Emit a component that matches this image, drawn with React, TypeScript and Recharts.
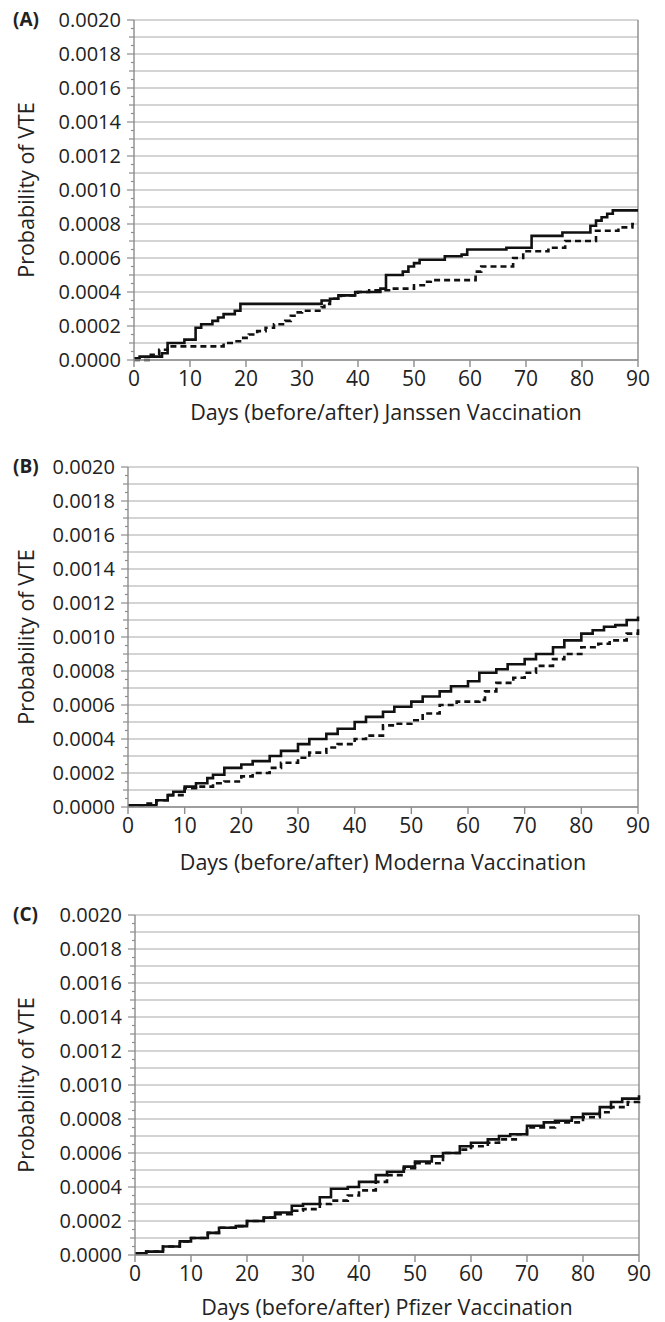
import React from "react";
import {
  LineChart,
  Line,
  XAxis,
  YAxis,
  CartesianGrid,
  ReferenceLine,
} from "recharts";

// x ticks and labelled y ticks
const xTicks = [0, 10, 20, 30, 40, 50, 60, 70, 80, 90];
const yLabels = [0, 0.0002, 0.0004, 0.0006, 0.0008, 0.001, 0.0012, 0.0014, 0.0016, 0.0018, 0.002];
const yTitle = "Probability of VTE";

// (A) Janssen
const janssenSolidDays = [0, 1, 5, 6, 9, 11, 12, 14, 15, 16, 18, 19, 33.5, 35, 36.5, 39.5, 44, 45, 48, 49, 50, 51, 55.5, 58.5, 59.5, 66.5, 71, 76.5, 81.5, 82.5, 83.5, 84.5, 85.5, 90];
const janssenSolidP = [0.00001, 0.00002, 0.00004, 0.0001, 0.00012, 0.00019, 0.00021, 0.00023, 0.00025, 0.00027, 0.00029, 0.00033, 0.00035, 0.00036, 0.00038, 0.0004, 0.00042, 0.0005, 0.00052, 0.00055, 0.00057, 0.00059, 0.00061, 0.00062, 0.00065, 0.00066, 0.00073, 0.00075, 0.00079, 0.00082, 0.00084, 0.00086, 0.00088, 0.00088];
const janssenDashDays = [0, 3, 4.5, 6, 16, 18, 19.5, 20.5, 22, 23.5, 25, 27, 28, 29, 30, 33.5, 34, 35, 37, 40, 42, 46, 50, 52, 53, 61, 62, 67.7, 69.5, 74, 77, 82.5, 86.5, 89, 90];
const janssenDashP = [0, 0.00003, 0.00006, 0.00008, 0.0001, 0.00011, 0.00013, 0.00015, 0.00017, 0.00019, 0.00021, 0.00023, 0.00026, 0.00028, 0.00029, 0.00031, 0.00033, 0.00036, 0.00038, 0.0004, 0.00041, 0.00042, 0.00044, 0.00046, 0.00047, 0.00052, 0.00055, 0.0006, 0.00064, 0.00066, 0.0007, 0.00076, 0.00078, 0.0008, 0.0008];

// (B) Moderna
const modernaSolidDays = [0, 3, 5, 7, 8, 10, 12, 14, 15, 17, 20, 22, 25, 27, 30, 32, 35, 37, 40, 42, 45, 47, 50, 52, 55, 57, 60, 62, 65, 67, 70, 72, 75, 77, 80, 82, 84, 86, 88, 90];
const modernaSolidP = [0.00001, 0.00001, 0.00004, 0.00007, 0.00009, 0.00012, 0.00014, 0.00017, 0.00019, 0.00023, 0.00025, 0.00027, 0.0003, 0.00033, 0.00037, 0.0004, 0.00043, 0.00046, 0.0005, 0.00053, 0.00056, 0.00059, 0.00062, 0.00065, 0.00068, 0.00071, 0.00074, 0.00079, 0.00081, 0.00084, 0.00087, 0.0009, 0.00094, 0.00098, 0.00102, 0.00104, 0.00106, 0.00107, 0.0011, 0.00112];
const modernaDashDays = [0, 3, 5, 7, 10, 12, 15, 17, 20, 22, 25, 27, 30, 32, 35, 37, 40, 42, 45, 47, 50, 52, 55, 58, 62, 63, 65, 68, 70, 72, 75, 77, 80, 83, 85, 88, 90];
const modernaDashP = [0.00001, 0.00002, 0.00004, 0.00007, 0.00011, 0.00012, 0.00014, 0.00015, 0.00018, 0.0002, 0.00023, 0.00026, 0.00029, 0.00032, 0.00035, 0.00037, 0.0004, 0.00042, 0.00048, 0.00049, 0.00051, 0.00055, 0.0006, 0.00062, 0.00063, 0.00068, 0.00073, 0.00076, 0.00079, 0.00083, 0.00087, 0.0009, 0.00094, 0.00096, 0.00098, 0.00102, 0.00106];

// (C) Pfizer
const pfizerSolidDays = [0, 2, 5, 8, 10, 13, 15, 18, 20, 23, 25, 28, 30, 33, 35, 38, 40, 43, 45, 48, 50, 53, 55, 58, 60, 63, 65, 67, 70, 73, 75, 78, 80, 83, 85, 87, 90];
const pfizerSolidP = [0.00001, 0.00002, 0.00005, 0.00008, 0.0001, 0.00013, 0.00016, 0.00017, 0.0002, 0.00022, 0.00025, 0.00029, 0.0003, 0.00034, 0.00039, 0.0004, 0.00043, 0.00047, 0.00049, 0.00052, 0.00055, 0.00058, 0.0006, 0.00064, 0.00066, 0.00068, 0.0007, 0.00071, 0.00076, 0.00078, 0.00079, 0.00081, 0.00083, 0.00087, 0.0009, 0.00092, 0.00094];
const pfizerDashDays = [0, 2, 5, 8, 10, 13, 15, 18, 20, 23, 25, 28, 30, 33, 35, 38, 40, 43, 45, 48, 50, 55, 58, 60, 63, 65, 68, 70, 75, 80, 83, 85, 88, 90];
const pfizerDashP = [0.00001, 0.00002, 0.00005, 0.00008, 0.0001, 0.00013, 0.00016, 0.00017, 0.0002, 0.00022, 0.00024, 0.00026, 0.00027, 0.0003, 0.00032, 0.00035, 0.00038, 0.00043, 0.00047, 0.00051, 0.00054, 0.0006, 0.00062, 0.00064, 0.00066, 0.00068, 0.00071, 0.00075, 0.00078, 0.00081, 0.00084, 0.00087, 0.0009, 0.00093];

const FONT = "'Open Sans', 'Noto Sans', sans-serif";
const TEXT = "#222";
const AXIS = "#8c8c8c";
const GRID = "#c6c6c6";
const INK = "#111";

// minor y ticks every 0.00005, gridlines every 0.0001
const yTicks = Array.from({ length: 41 }, (_, i) => +(i * 0.00005).toFixed(5));
const gridVals = Array.from({ length: 21 }, (_, i) => +(i * 0.0001).toFixed(4));

const toPoints = (days: number[], p: number[]) => days.map((d, i) => ({ day: d, p: p[i] }));

function YTick(props: any) {
  const { x, y, payload } = props;
  const k = Math.round(payload.value / 0.00005);
  const labelled = yLabels.some((v) => Math.abs(v - payload.value) < 1e-9);
  const len = labelled ? 7 : k % 2 === 0 ? 5 : 3;
  return (
    <g>
      <line x1={x - len} x2={x} y1={y} y2={y} stroke={AXIS} strokeWidth={1.2} />
      {labelled && (
        <text x={x - 13} y={y} dy="0.36em" textAnchor="end" fontSize={20} fill={TEXT} fontFamily={FONT}>
          {payload.value.toFixed(4)}
        </text>
      )}
    </g>
  );
}

interface PanelProps {
  letter: string;
  title: string;
  top: number;
  plotTop: number;
  plotLeft: number;
  plotRight: number;
  titleOffset: number;
  solid: { day: number; p: number }[];
  dashed: { day: number; p: number }[];
}

function Panel({ letter, title, top, plotTop, plotLeft, plotRight, titleOffset, solid, dashed }: PanelProps) {
  const plotH = 340;
  const axisH = 70;
  return (
    <div style={{ position: "absolute", left: 0, top }}>
      <LineChart
        width={665}
        height={plotTop + plotH + axisH}
        margin={{ top: plotTop, right: 665 - plotRight, left: 0, bottom: 0 }}
      >
        <CartesianGrid vertical={false} horizontalValues={gridVals} stroke={GRID} strokeWidth={1.4} />
        <XAxis
          dataKey="day"
          type="number"
          domain={[0, 90]}
          ticks={xTicks}
          interval={0}
          allowDuplicatedCategory={false}
          height={axisH}
          stroke={AXIS}
          strokeWidth={1.4}
          tickSize={7}
          tickMargin={4}
          tick={{ fontSize: 21, fill: TEXT, fontFamily: FONT }}
          label={{
            content: (p: any) => (
              <text
                x={p.viewBox.x + p.viewBox.width / 2}
                y={p.viewBox.y + titleOffset}
                textAnchor="middle"
                fontSize={21.5}
                fill={TEXT}
                fontFamily={FONT}
              >
                {title}
              </text>
            ),
          }}
        />
        <YAxis
          type="number"
          domain={[0, 0.002]}
          ticks={yTicks}
          interval={0}
          width={plotLeft}
          stroke={AXIS}
          strokeWidth={1.4}
          tickSize={0}
          tickMargin={0}
          tickLine={false}
          tick={<YTick />}
          label={{
            content: (p: any) => {
              const cy = p.viewBox.y + p.viewBox.height / 2;
              return (
                <g>
                  <text
                    x={26}
                    y={cy}
                    transform={`rotate(-90, 26, ${cy})`}
                    dy="0.35em"
                    textAnchor="middle"
                    fontSize={21.5}
                    fill={TEXT}
                    fontFamily={FONT}
                  >
                    {yTitle}
                  </text>
                  <text x={13} y={p.viewBox.y} dy="0.32em" fontSize={19} fontWeight="bold" fill={TEXT} fontFamily={FONT}>
                    {letter}
                  </text>
                </g>
              );
            },
          }}
        />
        <ReferenceLine x={90} stroke={AXIS} strokeWidth={1.4} />
        <Line
          data={dashed}
          dataKey="p"
          type="stepAfter"
          stroke={INK}
          strokeWidth={2.6}
          strokeDasharray="6 4"
          dot={false}
          isAnimationActive={false}
        />
        <Line
          data={solid}
          dataKey="p"
          type="stepAfter"
          stroke={INK}
          strokeWidth={2.6}
          dot={false}
          isAnimationActive={false}
        />
      </LineChart>
    </div>
  );
}

export default function App() {
  return (
    <div style={{ position: "absolute", left: 0, top: 0, width: 665, height: 1322, background: "#fff" }}>
      <Panel
        letter="(A)"
        title="Days (before/after) Janssen Vaccination"
        top={0}
        plotTop={20}
        plotLeft={134}
        plotRight={638}
        titleOffset={60}
        solid={toPoints(janssenSolidDays, janssenSolidP)}
        dashed={toPoints(janssenDashDays, janssenDashP)}
      />
      <Panel
        letter="(B)"
        title="Days (before/after) Moderna Vaccination"
        top={440}
        plotTop={27}
        plotLeft={128}
        plotRight={638}
        titleOffset={63}
        solid={toPoints(modernaSolidDays, modernaSolidP)}
        dashed={toPoints(modernaDashDays, modernaDashP)}
      />
      <Panel
        letter="(C)"
        title="Days (before/after) Pfizer Vaccination"
        top={890}
        plotTop={25}
        plotLeft={135}
        plotRight={639}
        titleOffset={60}
        solid={toPoints(pfizerSolidDays, pfizerSolidP)}
        dashed={toPoints(pfizerDashDays, pfizerDashP)}
      />
    </div>
  );
}
